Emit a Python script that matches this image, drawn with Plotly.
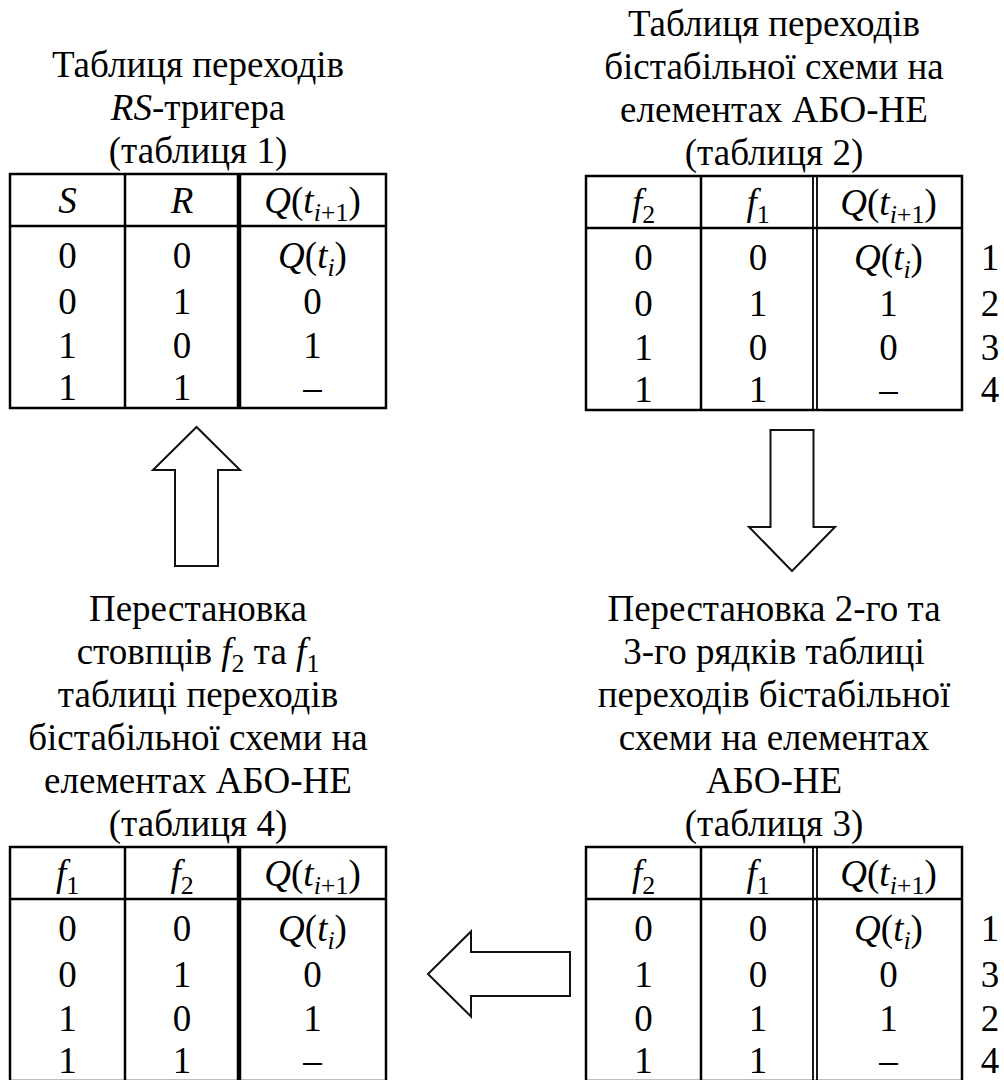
import plotly.graph_objects as go

W, H = 1004, 1080
FONT = "Liberation Serif"
INK = "#000000"

# ---------------- data ----------------
Q_NEXT = "<i>Q</i>(<i>t</i><sub><i>i</i>+1</sub>)"
Q_CUR = "<i>Q</i>(<i>t</i><sub><i>i</i></sub>)"

t1_title = ["Таблиця переходів", "<i>RS</i>-тригера", "(таблиця 1)"]
t1_headers = ["<i>S</i>", "<i>R</i>", Q_NEXT]
t1_a = ["0", "0", "1", "1"]
t1_b = ["0", "1", "0", "1"]
t1_q = [Q_CUR, "0", "1", "–"]
t1_ids = []

t2_title = ["Таблиця переходів", "бістабільної схеми на", "елементах АБО-НЕ", "(таблиця 2)"]
t2_headers = ["<i>f</i><sub>2</sub>", "<i>f</i><sub>1</sub>", Q_NEXT]
t2_a = ["0", "0", "1", "1"]
t2_b = ["0", "1", "0", "1"]
t2_q = [Q_CUR, "1", "0", "–"]
t2_ids = ["1", "2", "3", "4"]

t3_title = ["Перестановка 2-го та", "3-го рядків таблиці", "переходів бістабільної",
            "схеми на елементах", "АБО-НЕ", "(таблиця 3)"]
t3_headers = ["<i>f</i><sub>2</sub>", "<i>f</i><sub>1</sub>", Q_NEXT]
t3_a = ["0", "1", "0", "1"]
t3_b = ["0", "0", "1", "1"]
t3_q = [Q_CUR, "0", "1", "–"]
t3_ids = ["1", "3", "2", "4"]

t4_title = ["Перестановка", "стовпців <i>f</i><sub>2</sub> та <i>f</i><sub>1</sub>", "таблиці переходів",
            "бістабільної схеми на", "елементах АБО-НЕ", "(таблиця 4)"]
t4_headers = ["<i>f</i><sub>1</sub>", "<i>f</i><sub>2</sub>", Q_NEXT]
t4_a = ["0", "0", "1", "1"]
t4_b = ["0", "1", "0", "1"]
t4_q = [Q_CUR, "0", "1", "–"]
t4_ids = []

# ---------------- layout of the tables (positions / styles) ----------------
tables = [
    dict(title=t1_title, headers=t1_headers, cols=[t1_a, t1_b, t1_q], ids=t1_ids,
         left=10, top=174, widths=[115, 114, 147], sep="thick"),
    dict(title=t2_title, headers=t2_headers, cols=[t2_a, t2_b, t2_q], ids=t2_ids,
         left=586, top=176, widths=[115, 114, 147], sep="double"),
    dict(title=t3_title, headers=t3_headers, cols=[t3_a, t3_b, t3_q], ids=t3_ids,
         left=586, top=847, widths=[115, 114, 147], sep="double"),
    dict(title=t4_title, headers=t4_headers, cols=[t4_a, t4_b, t4_q], ids=t4_ids,
         left=10, top=847, widths=[115, 114, 147], sep="thick"),
]

HEADER_H = 52
BODY_H = 182
ROW_OFFS = [33, 79, 123, 165]
LINE_GAP = 43
TITLE_GAP = 20
FS = 37
ID_X_OFF = 28

shapes = []
tx, ty, tt = [], [], []


def text(x, y, s):
    tx.append(x)
    ty.append(y)
    tt.append(s)


def line(x0, y0, x1, y1, w):
    shapes.append(dict(type="line", xref="x", yref="y", x0=x0, y0=y0, x1=x1, y1=y1,
                       line=dict(color=INK, width=w)))


for t in tables:
    L, T = t["left"], t["top"]
    xs = [L]
    for w in t["widths"]:
        xs.append(xs[-1] + w)
    R = xs[-1]
    hb = T + HEADER_H
    B = hb + BODY_H
    shapes.append(dict(type="rect", xref="x", yref="y", x0=L, y0=T, x1=R, y1=B,
                       line=dict(color=INK, width=2.5)))
    line(L, hb, R, hb, 2.5)
    line(xs[1], T, xs[1], B, 2.5)
    if t["sep"] == "thick":
        line(xs[2], T, xs[2], B, 4.5)
    else:
        line(xs[2] - 2, T, xs[2] - 2, B, 1.8)
        line(xs[2] + 2, T, xs[2] + 2, B, 1.8)
    for i, h in enumerate(t["headers"]):
        text((xs[i] + xs[i + 1]) / 2, T + HEADER_H / 2 + 4, h)
    for ci, col in enumerate(t["cols"]):
        cx = (xs[ci] + xs[ci + 1]) / 2
        for ri, v in enumerate(col):
            text(cx, hb + ROW_OFFS[ri], v)
    for ri, v in enumerate(t["ids"]):
        text(R + ID_X_OFF, hb + ROW_OFFS[ri], v)
    n = len(t["title"])
    for k, s in enumerate(t["title"]):
        text((L + R) / 2, T - TITLE_GAP - (n - 1 - k) * LINE_GAP, s)


def arrow(tip_x, tip_y, direction, length, shaft_w, head_w, head_len):
    pts = [(0, 0), (head_len, head_w / 2), (head_len, shaft_w / 2), (length, shaft_w / 2),
           (length, -shaft_w / 2), (head_len, -shaft_w / 2), (head_len, -head_w / 2)]
    dx, dy = {"up": (0, 1), "down": (0, -1), "left": (1, 0), "right": (-1, 0)}[direction]
    px, py = -dy, dx
    path = ""
    for i, (u, v) in enumerate(pts):
        X = tip_x + u * dx + v * px
        Y = tip_y + u * dy + v * py
        path += ("M" if i == 0 else "L") + f"{X:.1f},{Y:.1f} "
    path += "Z"
    shapes.append(dict(type="path", xref="x", yref="y", path=path,
                       line=dict(color="#111111", width=2), fillcolor="rgba(0,0,0,0)"))


arrow(196.5, 427, "up", 139, 43, 87, 43)
arrow(792, 571, "down", 141, 43, 86, 44)
arrow(428, 974, "left", 142, 44, 85, 43)

fig = go.Figure()
fig.add_trace(go.Scatter(x=tx, y=ty, text=tt, mode="text", textposition="middle center",
                         textfont=dict(family=FONT, size=FS, color=INK),
                         hoverinfo="skip", showlegend=False, cliponaxis=False))
fig.update_layout(
    width=W, height=H, margin=dict(l=0, r=0, t=0, b=0),
    paper_bgcolor="white", plot_bgcolor="white",
    font=dict(family=FONT, size=FS, color=INK),
    xaxis=dict(range=[0, W], visible=False, fixedrange=True),
    yaxis=dict(range=[H, 0], visible=False, fixedrange=True),
    shapes=shapes, showlegend=False,
)
fig.write_html("out.html", config={"displayModeBar": False, "staticPlot": True},
               post_script="document.body.style.margin='0';document.body.style.overflow='hidden';")
